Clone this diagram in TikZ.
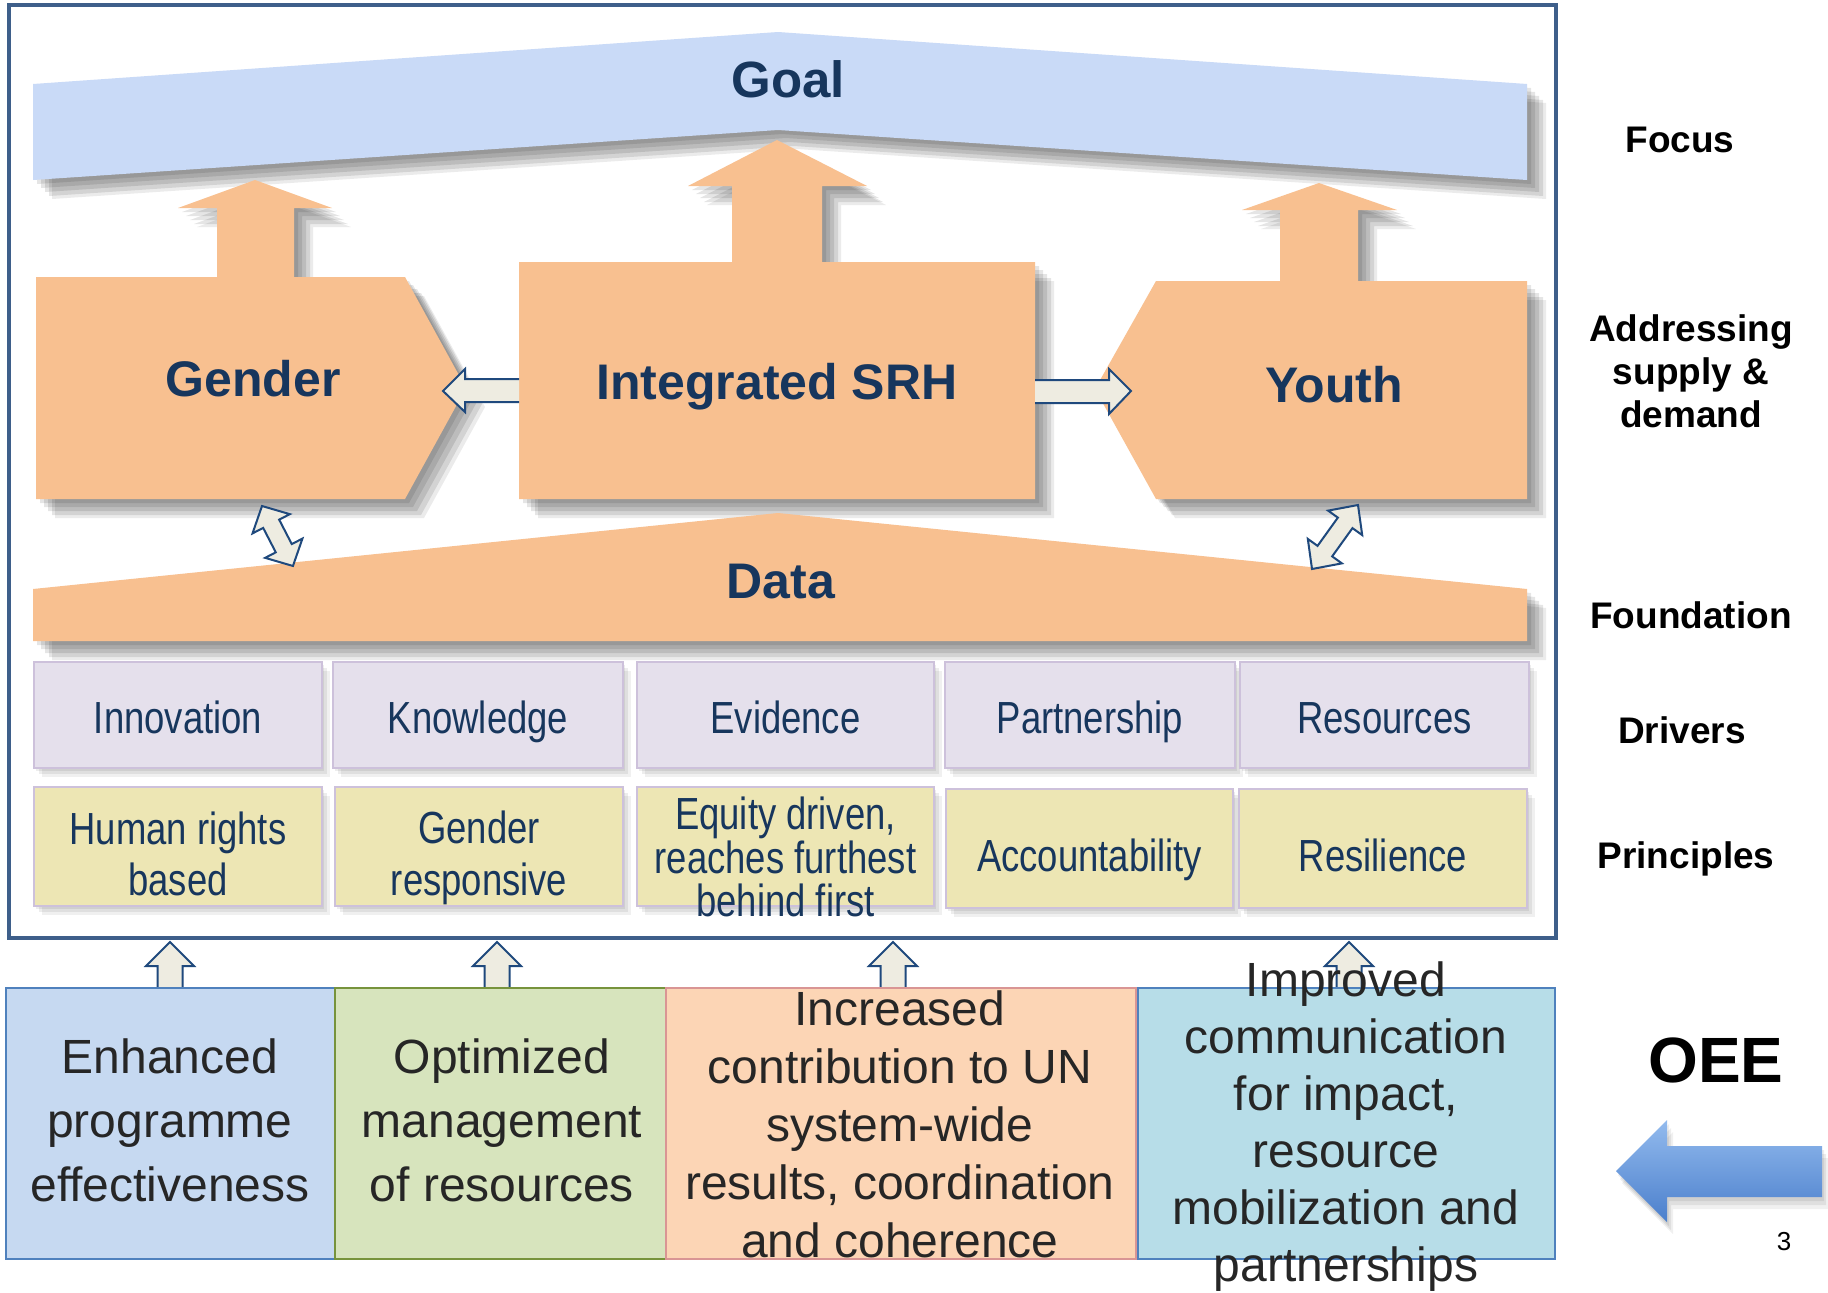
\documentclass[tikz,border=0pt]{standalone}
\usepackage{fontspec}
\setmainfont{Liberation Sans}
\newfontfamily\narrowfont[FakeStretch=0.81]{Liberation Sans}
\usetikzlibrary{calc}
\definecolor{framec}{HTML}{3E5F8A}
\definecolor{navy}{HTML}{17365D}
\definecolor{orangef}{HTML}{F8C090}
\definecolor{goalf}{HTML}{C9DAF7}
\definecolor{drvf}{HTML}{E5E0EC}
\definecolor{drvb}{HTML}{CDC1DB}
\definecolor{prnf}{HTML}{EDE6B4}
\definecolor{hollowf}{HTML}{EEECE1}
\definecolor{hollowb}{HTML}{1F497D}
\definecolor{boxaf}{HTML}{C6D9F1}
\definecolor{boxab}{HTML}{4F81BD}
\definecolor{boxbf}{HTML}{D7E4BD}
\definecolor{boxbb}{HTML}{77933C}
\definecolor{boxcf}{HTML}{FCD5B5}
\definecolor{boxcb}{HTML}{D99594}
\definecolor{boxdf}{HTML}{B7DDE8}
\definecolor{boxdb}{HTML}{4F81BD}
\definecolor{bottxt}{HTML}{262626}
\definecolor{arrtop}{HTML}{93BBEE}
\definecolor{arrbot}{HTML}{4B7FCC}
\begin{document}
\begin{tikzpicture}[x=0.5pt,y=-0.5pt,
  shad/.style={
    preaction={fill=black,fill opacity=0.10,transform canvas={xshift=2pt,yshift=-2pt}},
    preaction={fill=black,fill opacity=0.10,transform canvas={xshift=4pt,yshift=-4pt}},
    preaction={fill=black,fill opacity=0.10,transform canvas={xshift=6pt,yshift=-6pt}},
    preaction={fill=black,fill opacity=0.10,transform canvas={xshift=8pt,yshift=-8pt}},
    preaction={fill=black,fill opacity=0.08,transform canvas={xshift=9.5pt,yshift=-9.5pt}}},
  softshad/.style={
    preaction={fill=black,fill opacity=0.07,transform canvas={xshift=1pt,yshift=-2pt}},
    preaction={fill=black,fill opacity=0.07,transform canvas={xshift=2pt,yshift=-4pt}},
    preaction={fill=black,fill opacity=0.06,transform canvas={xshift=3pt,yshift=-6pt}}},
  lightshad/.style={
    preaction={fill=black,fill opacity=0.07,transform canvas={xshift=1pt,yshift=-1.5pt}},
    preaction={fill=black,fill opacity=0.07,transform canvas={xshift=2.5pt,yshift=-3pt}},
    preaction={fill=black,fill opacity=0.06,transform canvas={xshift=4pt,yshift=-4.5pt}}},
  orangeshape/.style={fill=orangef,shad},
  hollowfill/.style={fill=hollowf},
  hollowline/.style={draw=hollowb,line width=1pt,line join=miter},
  drvbox/.style={draw=drvb,line width=1pt,fill=drvf,lightshad,minimum height=53pt,inner sep=0pt},
  prnbox/.style={draw=drvb,line width=1pt,fill=prnf,lightshad,minimum height=59.5pt,inner sep=0pt},
  botbox/.style={line width=1pt,minimum height=135.5pt,inner sep=0pt},
  biglabel/.style={font=\bfseries\fontsize{25}{30}\selectfont,text=navy,anchor=base},
  sidelabel/.style={font=\bfseries\fontsize{18.5}{21.5}\selectfont,text=black,align=center},
  drvtext/.style={font=\narrowfont\fontsize{22.5}{25.7}\selectfont,text=navy,align=center},
  bottext/.style={font=\fontsize{24}{32}\selectfont,text=bottxt,align=center}]

\useasboundingbox (0,0) rectangle (1828,1292);
\fill[white] (0,0) rectangle (1828,1292);

% Goal band
\fill[fill=goalf,shad] (33,84) -- (778,32) -- (1527,84) -- (1527,180) -- (778,130) -- (33,180) -- cycle;

% Gender with up arrow
\fill[orangeshape] (36,277) -- (217,277) -- (217,208) -- (178,208) -- (255,180) -- (332,208) -- (294,208) -- (294,277) -- (405,277) -- (466,388) -- (405,499) -- (36,499) -- cycle;
% Integrated SRH with up arrow
\fill[orangeshape] (519,262) -- (732,262) -- (732,186) -- (688,186) -- (777,140) -- (867,186) -- (822,186) -- (822,262) -- (1035,262) -- (1035,499) -- (519,499) -- cycle;
% Youth with up arrow
\fill[orangeshape] (1156,281) -- (1280,281) -- (1280,210) -- (1242,210) -- (1319,183) -- (1397,210) -- (1358,210) -- (1358,281) -- (1527,281) -- (1527,499) -- (1156,499) -- (1095,389) -- cycle;
% Data
\fill[orangeshape] (33,589) -- (778,513) -- (1527,589) -- (1527,641) -- (33,641) -- cycle;

% hollow horizontal arrows
\fill[hollowfill] (519,379) -- (465,379) -- (465,369) -- (443,391) -- (465,412) -- (465,402) -- (519,402) -- cycle;
\draw[hollowline] (519,379) -- (465,379) -- (465,369) -- (443,391) -- (465,412) -- (465,402) -- (519,402);
\fill[hollowfill] (1035,380) -- (1109,380) -- (1109,369) -- (1131,391) -- (1109,414) -- (1109,403) -- (1035,403) -- cycle;
\draw[hollowline] (1035,380) -- (1109,380) -- (1109,369) -- (1131,391) -- (1109,414) -- (1109,403) -- (1035,403);

% double arrows
\begin{scope}[shift={(262,506)},rotate=-62.7]
\filldraw[hollowfill,hollowline] (0,0) -- (20,-21) -- (20,-9) -- (47.5,-9) -- (47.5,-21) -- (67.5,0) -- (47.5,21) -- (47.5,9) -- (20,9) -- (20,21) -- cycle;
\end{scope}
\begin{scope}[shift={(1358,505)},rotate=-125.7]
\filldraw[hollowfill,hollowline] (0,0) -- (22,-21) -- (22,-9) -- (56.8,-9) -- (56.8,-21) -- (78.8,0) -- (56.8,21) -- (56.8,9) -- (22,9) -- (22,21) -- cycle;
\end{scope}

% drivers
\node[drvbox,minimum width=144pt] (d1) at (178,715) {};
\node[drvbox,minimum width=145pt] (d2) at (478,715) {};
\node[drvbox,minimum width=148.5pt] (d3) at (785.5,715) {};
\node[drvbox,minimum width=145pt] (d4) at (1090,715) {};
\node[drvbox,minimum width=144.5pt] (d5) at (1384.5,715) {};
% principles
\node[prnbox,minimum width=144pt] (p1) at (178,846.5) {};
\node[prnbox,minimum width=144pt] (p2) at (479,846.5) {};
\node[prnbox,minimum width=148.5pt] (p3) at (785.5,846.5) {};
\node[prnbox,minimum width=143.5pt] (p4) at (1089.5,848) {};
\node[prnbox,minimum width=144pt] (p5) at (1383,848) {};

% frame
\draw[framec,line width=2pt] (9,5) rectangle (1556,938);

% small up arrows
\foreach \cx/\nm in {170/ua,497/ub,893/uc,1349/ud}{
  \coordinate (\nm) at (\cx,942);
  \fill[hollowfill] (\cx-12.5,988) -- (\cx-12.5,966) -- (\cx-24,966) -- (\cx,942) -- (\cx+24,966) -- (\cx+12.5,966) -- (\cx+12.5,988) -- cycle;
  \draw[hollowline] (\cx-12.5,988) -- (\cx-12.5,966) -- (\cx-24,966) -- (\cx,942) -- (\cx+24,966) -- (\cx+12.5,966) -- (\cx+12.5,988);
}

% bottom boxes
\node[botbox,draw=boxab,fill=boxaf,minimum width=164.5pt] (b1) at (170.5,1123.5) {};
\node[botbox,draw=boxbb,fill=boxbf,minimum width=165.5pt] (b2) at (500.5,1123.5) {};
\node[botbox,draw=boxcb,fill=boxcf,minimum width=235pt] (b3) at (901,1123.5) {};
\node[botbox,draw=boxdb,fill=boxdf,minimum width=208.5pt] (b4) at (1346.5,1123.5) {};

% blue arrow
\path[softshad,top color=arrtop,bottom color=arrbot] (1616,1171) -- (1667,1120) -- (1667,1146) -- (1822,1146) -- (1822,1197) -- (1667,1197) -- (1667,1222) -- cycle;

% texts
\node[biglabel,font=\bfseries\fontsize{25.5}{30}\selectfont] (goal) at (788,97) {Goal};
\node[biglabel] (gender) at (253,396) {Gender};
\node[biglabel] (srh) at (777,399) {Integrated SRH};
\node[biglabel] (youth) at (1334,402) {Youth};
\node[biglabel] (data) at (781,598) {Data};

\node[drvtext,anchor=base] (t1) at (178,733) {Innovation};
\node[drvtext,anchor=base] (t2) at (478,733) {Knowledge};
\node[drvtext,anchor=base] (t3) at (785.5,733) {Evidence};
\node[drvtext,anchor=base] (t4) at (1090,733) {Partnership};
\node[drvtext,anchor=base] (t5) at (1384.5,733) {Resources};

\node[drvtext] (s1) at (178,854) {Human rights\\based};
\node[drvtext] (s2) at (479,858) {Gender\\responsive};
\node[drvtext,font=\narrowfont\fontsize{22.5}{21.7}\selectfont] (s3) at (785.5,857) {Equity driven,\\reaches furthest\\behind first};
\node[drvtext,anchor=base] (s4) at (1089.5,871) {Accountability};
\node[drvtext,anchor=base] (s5) at (1383,871) {Resilience};

\node[bottext] (e1) at (170,1120) {Enhanced\\programme\\effectiveness};
\node[bottext] (e2) at (502,1120) {Optimized\\management\\of resources};
\node[bottext,font=\fontsize{24}{29}\selectfont] (e3) at (900,1124) {Increased\\contribution to UN\\system-wide\\results, coordination\\and coherence};
\node[bottext,font=\fontsize{24}{28.5}\selectfont] (e4) at (1346,1127) {Improved\\communication\\for impact,\\resource\\mobilization and\\partnerships};

\node[sidelabel,anchor=base] (focus) at (1680,152) {Focus};
\node[sidelabel] (addr) at (1691,371) {Addressing\\supply \&\\demand};
\node[sidelabel,anchor=base] (found) at (1691,628) {Foundation};
\node[sidelabel,anchor=base] (drivers) at (1682,743) {Drivers};
\node[sidelabel,anchor=base] (princ) at (1686,868.5) {Principles};
\node[font=\bfseries\fontsize{32}{36}\selectfont,anchor=base] (oee) at (1716,1082) {OEE};
\node[font=\fontsize{13}{15}\selectfont,anchor=base] (pnum) at (1784,1250) {3};
\end{tikzpicture}
\end{document}
